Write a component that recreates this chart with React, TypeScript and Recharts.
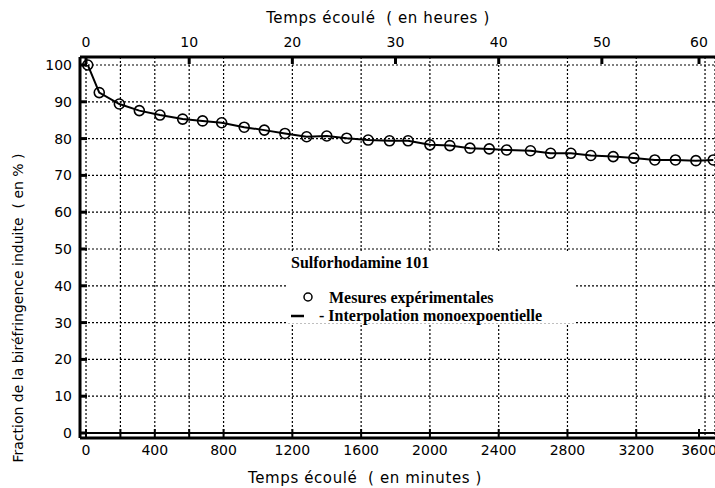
import { LineChart, Line, XAxis, YAxis, CartesianGrid, ReferenceLine, Legend } from "recharts";

// temps (minutes) et fraction de biréfringence (%)
const minutes = [
  10, 77, 194, 310, 430, 562, 678, 789, 920, 1037, 1157, 1283, 1400, 1516, 1641, 1765,
  1873, 2000, 2116, 2233, 2345, 2446, 2585, 2702, 2820, 2936, 3066, 3186, 3308, 3428, 3547, 3648,
];
const fraction = [
  100, 92.5, 89.4, 87.6, 86.4, 85.3, 84.8, 84.3, 83.1, 82.3, 81.4, 80.5, 80.7, 80.1, 79.6, 79.4,
  79.4, 78.3, 78.1, 77.4, 77.2, 76.9, 76.7, 76.0, 76.0, 75.4, 75.1, 74.7, 74.2, 74.2, 74.0, 74.2,
];

const minuteTicks = [0, 200, 400, 600, 800, 1000, 1200, 1400, 1600, 1800, 2000, 2200, 2400, 2600, 2800, 3000, 3200, 3400, 3600];
const minuteLabels = [0, 400, 800, 1200, 1600, 2000, 2400, 2800, 3200, 3600];
const hourTicks = [0, 10, 20, 30, 40, 50, 60];
const percentTicks = [0, 10, 20, 30, 40, 50, 60, 70, 80, 90, 100];

const minuteDomain = [-35, 3658];

const data = minutes.map((t, i) => ({ t, v: fraction[i] }));

const axisFont = "'DejaVu Sans', Verdana, sans-serif";
const serif = "'Liberation Serif', 'Times New Roman', serif";

function PercentTick({ x, y, payload }: any) {
  return (
    <g>
      <line x1={x + 6} x2={x + 13} y1={y} y2={y} stroke="#000" strokeWidth={3} />
      <text x={x - 2} y={y} dy={5} textAnchor="end" fontSize={14} fontFamily={axisFont} fill="#000">
        {payload.value}
      </text>
    </g>
  );
}

function HourTick({ x, y, payload }: any) {
  return (
    <g>
      <line x1={x} x2={x} y1={y + 8} y2={y + 15} stroke="#000" strokeWidth={3} />
      <text x={x} y={y} dy={-2} textAnchor="middle" fontSize={14} fontFamily={axisFont} fill="#000">
        {payload.value / 60}
      </text>
    </g>
  );
}

function MinuteTick({ x, y, payload }: any) {
  const show = minuteLabels.includes(payload.value);
  return (
    <g>
      <line x1={x} x2={x} y1={y - 17} y2={y - 7} stroke="#000" strokeWidth={2} />
      {show && (
        <text x={x} y={y} dy={9} textAnchor="middle" fontSize={14} fontFamily={axisFont} fill="#000">
          {payload.value}
        </text>
      )}
    </g>
  );
}

function HollowDot({ cx, cy }: any) {
  return <circle cx={cx} cy={cy} r={5} fill="none" stroke="#000" strokeWidth={1.6} />;
}

function LegendBox() {
  const txt = { position: "absolute" as const, fontFamily: serif, fontWeight: 700, fontSize: 16, whiteSpace: "nowrap" as const, lineHeight: "18px" };
  return (
    <div style={{ position: "relative", width: 287, height: 72, background: "#fff" }}>
      <div style={{ ...txt, left: 3, top: 3 }}>Sulforhodamine 101</div>
      <svg style={{ position: "absolute", left: 14, top: 40 }} width={12} height={12}>
        <circle cx={6} cy={6} r={4} fill="none" stroke="#000" strokeWidth={1.5} />
      </svg>
      <div style={{ ...txt, left: 41, top: 38 }}>Mesures expérimentales</div>
      <svg style={{ position: "absolute", left: 3, top: 62 }} width={14} height={6}>
        <line x1={0} x2={13} y1={3} y2={3} stroke="#000" strokeWidth={2.5} />
      </svg>
      <div style={{ ...txt, left: 31, top: 56 }}>- Interpolation monoexpoentielle</div>
    </div>
  );
}

function Title({ x, y, angle, value, size = 14, spacing = 0 }: { x: number; y: number; angle: number; value: string; size?: number; spacing?: number }) {
  return (
    <text
      x={x}
      y={y}
      transform={`rotate(${angle} ${x} ${y})`}
      textAnchor="middle"
      dominantBaseline="central"
      fontSize={size}
      letterSpacing={spacing}
      fontFamily={axisFont}
      fill="#000"
      style={{ whiteSpace: "pre" }}
    >
      {value}
    </text>
  );
}

export default function App() {
  return (
    <div style={{ position: "fixed", left: 0, top: 0, background: "#fff" }}>
      <LineChart width={715} height={488} data={data} margin={{ top: 0, right: 0, bottom: 0, left: 0 }}>
        <CartesianGrid xAxisId="min" yAxisId="pct" stroke="#000" strokeWidth={1.2} strokeDasharray="2 2" />
        <XAxis
          xAxisId="min"
          dataKey="t"
          type="number"
          domain={minuteDomain}
          allowDataOverflow
          ticks={minuteTicks}
          orientation="bottom"
          height={50}
          tickSize={0}
          tickMargin={8}
          tickLine={false}
          tick={<MinuteTick />}
          axisLine={{ stroke: "#000", strokeWidth: 3 }}
          label={() => <Title x={365} y={478} angle={0} size={15} spacing={0.6} value="Temps écoulé  ( en minutes )" />}
        />
        <XAxis
          xAxisId="hr"
          dataKey="t"
          type="number"
          domain={minuteDomain}
          allowDataOverflow
          ticks={hourTicks.map((h) => h * 60)}
          orientation="top"
          height={57}
          tickSize={0}
          tickMargin={8}
          tickLine={false}
          tick={<HourTick />}
          axisLine={{ stroke: "#000", strokeWidth: 3 }}
          label={() => <Title x={378} y={18} angle={0} size={15} spacing={0.6} value="Temps écoulé  ( en heures )" />}
        />
        <YAxis
          yAxisId="pct"
          type="number"
          domain={[-1.36, 102.17]}
          allowDataOverflow
          ticks={percentTicks}
          width={80}
          tickSize={0}
          tickMargin={6}
          tickLine={false}
          tick={<PercentTick />}
          axisLine={{ stroke: "#000", strokeWidth: 3 }}
          label={() => <Title x={18} y={308} angle={-90} value="Fraction de la biréfringence induite  ( en % )" />}
        />
        <ReferenceLine xAxisId="min" yAxisId="pct" y={0} stroke="#000" strokeWidth={2} />
        <Legend
          layout="horizontal"
          verticalAlign="middle"
          align="center"
          wrapperStyle={{ position: "absolute", left: 288, top: 251, width: 287, height: 72 }}
          content={() => <LegendBox />}
        />
        <Line
          xAxisId="min"
          yAxisId="pct"
          dataKey="v"
          type="linear"
          stroke="#000"
          strokeWidth={2}
          dot={<HollowDot />}
          activeDot={false}
          isAnimationActive={false}
        />
      </LineChart>
    </div>
  );
}
